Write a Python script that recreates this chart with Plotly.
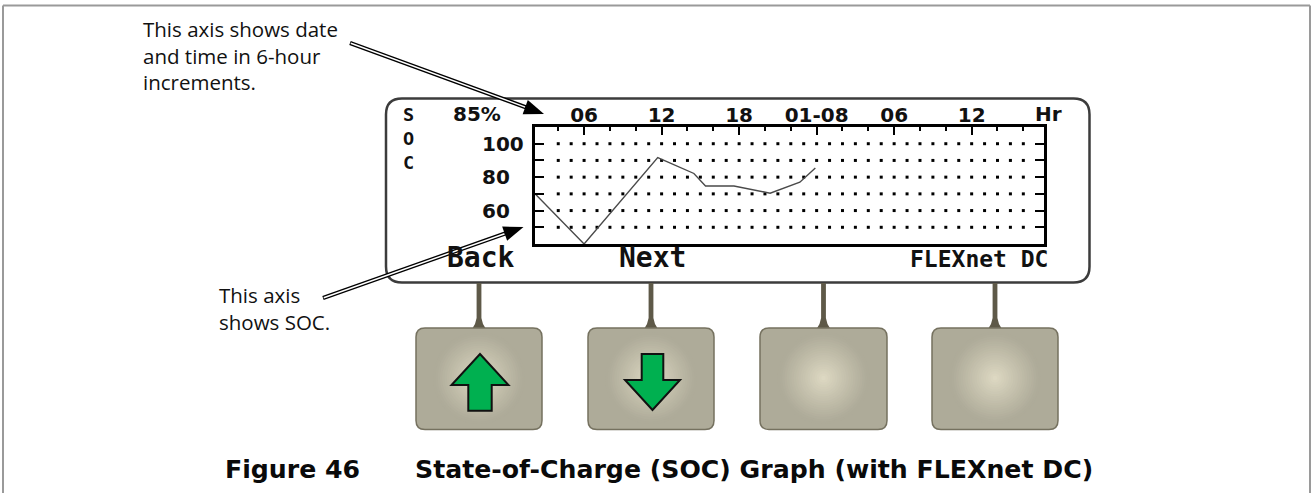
import plotly.graph_objects as go

# SOC history on the display: hours since 00:00 of day one, SOC in percent
soc_hours = [2.2, 6.0, 11.7, 14.5, 15.4, 17.6, 20.4, 22.7, 23.9]
soc_pct = [70, 40, 91.7, 82.2, 74.7, 74.7, 70.4, 77.0, 85.5]

major_hours = [6, 12, 18, 24, 30, 36]
major_labels = ['06', '12', '18', '01-08', '06', '12']
minor_hours = [4, 8, 10, 14, 16, 20, 22, 26, 28, 32, 34, 38, 40]
dot_hours = list(range(4, 41))
soc_levels = [50, 60, 70, 80, 90, 100]
soc_label_levels = [100, 80, 60]

W, H = 1312, 493
L, T, PW, PH = 535, 127, 509, 117   # plot frame in pixels

def px(x):
    return (x - L) / PW

def py(y):
    return (T + PH - y) / PH

def pt(x, y):
    return f'{px(x):.5f},{py(y):.5f}'

def rrect(x0, y0, x1, y1, r):
    return (f'M{pt(x0 + r, y0)} L{pt(x1 - r, y0)} Q{pt(x1, y0)} {pt(x1, y0 + r)} '
            f'L{pt(x1, y1 - r)} Q{pt(x1, y1)} {pt(x1 - r, y1)} L{pt(x0 + r, y1)} '
            f'Q{pt(x0, y1)} {pt(x0, y1 - r)} L{pt(x0, y0 + r)} Q{pt(x0, y0)} {pt(x0 + r, y0)} Z')

def poly(points):
    return 'M' + ' L'.join(pt(x, y) for x, y in points) + ' Z'

shapes = []
annotations = []

def shape(**kw):
    kw.setdefault('xref', 'paper')
    kw.setdefault('yref', 'paper')
    shapes.append(kw)

LCD = 'DejaVu Sans'
LCD_MONO = 'DejaVu Sans Mono'

def text(s, x, y, size, family=LCD, weight='bold', xanchor='center',
         color='#111', yanchor='middle', align='center'):
    annotations.append(dict(text=s, x=px(x), y=py(y), xref='paper', yref='paper',
                            showarrow=False, xanchor=xanchor, yanchor=yanchor, align=align,
                            font=dict(family=family, size=size, weight=weight, color=color)))

# outer figure border
shape(type='line', x0=px(3), x1=px(1310), y0=py(5.5), y1=py(5.5), line=dict(color='#9a9a9a', width=2))
shape(type='line', x0=px(3), x1=px(3), y0=py(5.5), y1=py(493), line=dict(color='#9a9a9a', width=2))
shape(type='line', x0=px(1310), x1=px(1310), y0=py(5.5), y1=py(493), line=dict(color='#9a9a9a', width=2))

# LCD screen
shape(type='path', path=rrect(386, 98.5, 1089.5, 282.5, 16), layer='below',
      fillcolor='white', line=dict(color='#3c3c3c', width=2.5))

# buttons with stems and glow
buttons = [(416, 542), (588, 714), (760, 887), (932, 1058)]
base = (174, 171, 153)
glow = (221, 216, 194)
for x0, x1 in buttons:
    cx = (x0 + x1) / 2
    stem = [(cx - 2.4, 283), (cx + 2.4, 283), (cx + 2.4, 318), (cx + 4, 324), (cx + 7, 329),
            (cx - 7, 329), (cx - 4, 324), (cx - 2.4, 318)]
    shape(type='path', path=poly(stem), fillcolor='#5e5948', line=dict(width=0))
    shape(type='path', path=rrect(x0, 328, x1, 429.5, 9), fillcolor='rgb(174,171,153)',
          line=dict(color='#75715f', width=1.5))
    n = 20
    for i in range(n):
        r = 46 * (1 - i / n)
        t = (i / (n - 1)) ** 1.1
        c = tuple(int(base[k] + (glow[k] - base[k]) * t) for k in range(3))
        shape(type='circle', x0=px(cx - r), x1=px(cx + r), y0=py(378 + r), y1=py(378 - r),
              fillcolor=f'rgb{c}', line=dict(width=0))

up = [(480, 354), (508.5, 385), (491.7, 385), (491.7, 410.7), (468.3, 410.7), (468.3, 385), (451.5, 385)]
down = [(641.7, 354), (663.3, 354), (663.3, 380), (680, 380), (652.5, 410), (625, 380), (641.7, 380)]
for p in (up, down):
    shape(type='path', path=poly(p), fillcolor='#00b050', line=dict(color='#111', width=2))

# callout arrows with double shafts
def callout(x0, y0, x1, y1):
    dx, dy = x1 - x0, y1 - y0
    d = (dx * dx + dy * dy) ** 0.5
    ux, uy = dx / d, dy / d
    nx, ny = -uy, ux
    bx, by = x1 - 20 * ux, y1 - 20 * uy
    shape(type='line', x0=px(x0), y0=py(y0), x1=px(bx + 2 * ux), y1=py(by + 2 * uy),
          line=dict(color='black', width=4.2))
    shape(type='line', x0=px(x0 + 0.8 * ux), y0=py(y0 + 0.8 * uy), x1=px(bx), y1=py(by),
          line=dict(color='white', width=1.5))
    shape(type='path', path=poly([(x1, y1), (bx + 7.5 * nx, by + 7.5 * ny), (bx - 7.5 * nx, by - 7.5 * ny)]),
          fillcolor='black', line=dict(width=0))

callout(350, 43, 544, 114)
callout(323, 298, 523.5, 227)

# callout texts
text('This axis shows date<br>and time in 6-hour<br>increments.', 141, 56, 20.5,
     family='Open Sans', weight='normal', xanchor='left', align='left', color='#111')
text('This axis<br>shows SOC.', 217, 308.5, 20.5,
     family='Open Sans', weight='normal', xanchor='left', align='left', color='#111')

# LCD texts
text('S<br>O<br>C', 408, 138, 18.5, family=LCD_MONO)
text('85%', 476.5, 114, 20)
text('Hr', 1048, 114, 20)
for v in soc_label_levels:
    annotations.append(dict(text=str(v), x=px(480), y=v, xref='paper', yref='y', showarrow=False,
                            xanchor='left', yanchor='middle',
                            font=dict(family=LCD, size=20, weight='bold', color='#111')))
text('Back', 481, 257, 28, family=LCD_MONO)
text('Next', 652.5, 257, 28, family=LCD_MONO)
text('FLEXnet DC', 1050, 259, 23, family=LCD_MONO, xanchor='right')

# caption
text('Figure 46', 223, 469, 25.2, family='DejaVu Sans', weight='bold', xanchor='left', color='#0a0a0a')
text('State-of-Charge (SOC) Graph (with FLEXnet DC)', 413, 469, 25.2, family='DejaVu Sans',
     weight='bold', xanchor='left', color='#0a0a0a')

fig = go.Figure()
fig.add_trace(go.Scatter(x=[h for h in dot_hours for _ in soc_levels],
                         y=[v for _ in dot_hours for v in soc_levels],
                         mode='markers', marker=dict(symbol='square', size=3, color='black'),
                         hoverinfo='skip', showlegend=False))
fig.add_trace(go.Scatter(x=soc_hours, y=soc_pct, mode='lines',
                         line=dict(color='#4a4a4a', width=1.4), showlegend=False))

fig.update_layout(
    width=W, height=H, autosize=False,
    margin=dict(l=L, r=W - L - PW, t=T, b=H - T - PH),
    paper_bgcolor='white', plot_bgcolor='rgba(0,0,0,0)',
    shapes=shapes, annotations=annotations,
    xaxis=dict(range=[2.2, 41.6], side='top', tickvals=major_hours, ticktext=major_labels,
               ticks='inside', ticklen=8, tickwidth=2.2, tickcolor='black',
               minor=dict(tickvals=minor_hours, ticks='inside', ticklen=4, tickwidth=2, tickcolor='black'),
               showline=True, mirror=True, linecolor='black', linewidth=2.5,
               showgrid=False, zeroline=False, ticklabelstandoff=-6,
               tickfont=dict(family=LCD, size=20, weight='bold', color='#111')),
    yaxis=dict(range=[40, 110], tickvals=soc_levels, showticklabels=False,
               ticks='inside', ticklen=9, tickwidth=2.2, tickcolor='black',
               showline=True, mirror='ticks', linecolor='black', linewidth=2.5,
               showgrid=False, zeroline=False),
)

fig.write_html('out.html', config={'displayModeBar': False},
               post_script="document.body.style.margin='0';")
